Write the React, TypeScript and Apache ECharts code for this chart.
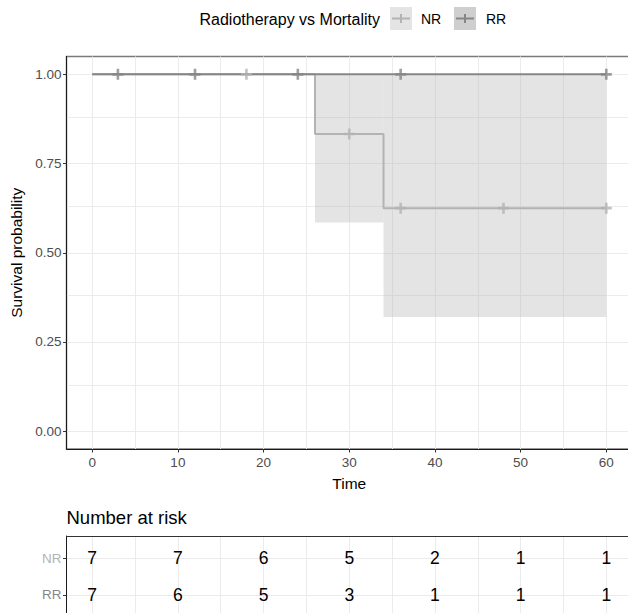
import React, { useEffect, useRef } from 'react';
import * as echarts from 'echarts';

const groups = ['NR', 'RR'];
const groupColors = ['#b3b3b3', '#868686'];
const timeTicks = [0, 10, 20, 30, 40, 50, 60];
const survTicks = [0, 0.25, 0.5, 0.75, 1];
const nrCurve = [[0, 1], [26, 0.833], [34, 0.625], [60, 0.625]];
const rrCurve = [[0, 1], [60, 1]];
// [x start, x end, lower, upper]
const nrBand = [[26, 34, 0.585, 1], [34, 60, 0.32, 1]];
const nrCensor = [[18, 1], [30, 0.833], [36, 0.625], [48, 0.625], [60, 0.625]];
const rrCensor = [[3, 1], [12, 1], [24, 1], [36, 1], [60, 1]];
const nrRisk = [7, 7, 6, 5, 2, 1, 1];
const rrRisk = [7, 6, 5, 3, 1, 1, 1];

const FONT = '"Liberation Sans", Arial, Helvetica, sans-serif';
const GRID = '#ebebeb';
const CROSS = 'path://M0,4.2H4.2V0H6.8V4.2H11V6.8H6.8V11H4.2V6.8H0Z';

function withMinor(ticks: number[]) {
  const out: number[] = [];
  ticks.forEach((t, i) => {
    out.push(t);
    if (i < ticks.length - 1) out.push((t + ticks[i + 1]) / 2);
  });
  return out;
}

export default function App() {
  const ref = useRef<HTMLDivElement>(null);
  useEffect(() => {
    if (!ref.current) return;
    const chart = echarts.init(ref.current, undefined, { renderer: 'svg' });
    const xGrid = withMinor(timeTicks);
    const yGrid = withMinor(survTicks);
    const riskRows = [nrRisk, rrRisk];
    const riskData: number[][] = [];
    riskRows.forEach((row, i) => row.forEach((n, j) => riskData.push([timeTicks[j], i + 1, n])));

    const lineMark = (data: any[]) => ({
      silent: true,
      symbol: ['none', 'none'],
      z: 0,
      label: { show: false },
      lineStyle: { color: GRID, type: 'solid', width: 1 },
      emphasis: { disabled: true },
      data,
    });

    const option: any = {
      animation: false,
      backgroundColor: '#ffffff',
      textStyle: { fontFamily: FONT },
      grid: [
        { left: 66.5, width: 565.5, top: 56.5, height: 392.5, outerBoundsMode: 'none', containLabel: false, show: true, borderColor: '#7a7a7a', borderWidth: 1.5, backgroundColor: 'transparent' },
        { left: 66.5, width: 565.5, top: 536, height: 81, outerBoundsMode: 'none', containLabel: false, show: false },
      ],
      xAxis: [
        {
          type: 'value', gridIndex: 0, min: -3, max: 63,
          splitLine: { show: false },
          axisLine: { show: true, onZero: false, lineStyle: { color: '#1a1a1a', width: 1 } },
          axisTick: { show: true, customValues: timeTicks, length: 3.5, lineStyle: { color: '#333333' } },
          axisLabel: { customValues: timeTicks, color: '#4d4d4d', fontSize: 13.5, margin: 6, fontFamily: FONT },
          name: 'Time', nameLocation: 'middle', nameGap: 26,
          nameTextStyle: { color: '#000000', fontSize: 15.5, fontFamily: FONT },
        },
        {
          type: 'value', gridIndex: 1, min: -3, max: 63, position: 'top',
          splitLine: { show: false },
          axisLine: { show: true, onZero: false, lineStyle: { color: '#333333', width: 1 } },
          axisTick: { show: false }, axisLabel: { show: false },
        },
      ],
      yAxis: [
        {
          type: 'value', gridIndex: 0, min: -0.05, max: 1.05,
          splitLine: { show: false },
          axisLine: { show: true, onZero: false, lineStyle: { color: '#1a1a1a', width: 1 } },
          axisTick: { show: true, customValues: survTicks, length: 3.5, lineStyle: { color: '#333333' } },
          axisLabel: { customValues: survTicks, formatter: (v: number) => v.toFixed(2), color: '#4d4d4d', fontSize: 13.5, margin: 5, fontFamily: FONT },
          name: 'Survival probability', nameLocation: 'middle', nameGap: 40,
          nameTextStyle: { color: '#000000', fontSize: 15.5, fontFamily: FONT },
        },
        {
          type: 'value', gridIndex: 1, min: 0.4, max: 2.6, inverse: true,
          splitLine: { show: false },
          axisLine: { show: true, onZero: false, lineStyle: { color: '#1a1a1a', width: 1 } },
          axisTick: { show: true, customValues: [1, 2], length: 3.5, lineStyle: { color: '#333333' } },
          axisLabel: {
            customValues: [1, 2],
            formatter: (v: number) => groups[Math.round(v) - 1] || '',
            color: (v: any) => groupColors[Math.round(Number(v)) - 1] || '#4d4d4d',
            fontSize: 13.5, margin: 5, fontFamily: FONT,
          },
        },
      ],
      series: [
        {
          type: 'line', xAxisIndex: 0, yAxisIndex: 0, z: 0, silent: true,
          data: [[-3, -0.05]], symbol: 'none', lineStyle: { opacity: 0 },
          markLine: lineMark([
            ...xGrid.map((x) => ({ xAxis: x })),
            ...yGrid.map((y) => ({ yAxis: y })),
          ]),
        },
        {
          type: 'custom', xAxisIndex: 0, yAxisIndex: 0, z: 1, silent: true,
          data: nrBand,
          renderItem: (params: any, api: any) => {
            const p0 = api.coord([api.value(0), api.value(3)]);
            const p1 = api.coord([api.value(1), api.value(2)]);
            return {
              type: 'rect',
              shape: { x: p0[0], y: p0[1], width: p1[0] - p0[0], height: p1[1] - p0[1] },
              style: { fill: 'rgba(179,179,179,0.36)' },
            };
          },
        },
        {
          type: 'line', xAxisIndex: 0, yAxisIndex: 0, z: 2, step: 'end', name: 'NR',
          data: nrCurve, symbol: 'none', lineStyle: { color: groupColors[0], width: 2 },
        },
        {
          type: 'line', xAxisIndex: 0, yAxisIndex: 0, z: 3, step: 'end', name: 'RR',
          data: rrCurve, symbol: 'none', lineStyle: { color: groupColors[1], width: 2 },
        },
        {
          type: 'scatter', xAxisIndex: 0, yAxisIndex: 0, z: 4,
          data: nrCensor, symbol: CROSS, symbolSize: 11, itemStyle: { color: groupColors[0] },
        },
        {
          type: 'scatter', xAxisIndex: 0, yAxisIndex: 0, z: 4,
          data: rrCensor, symbol: CROSS, symbolSize: 11, itemStyle: { color: groupColors[1] },
        },
        {
          type: 'line', xAxisIndex: 1, yAxisIndex: 1, z: 0, silent: true,
          data: [[-3, 0.4]], symbol: 'none', lineStyle: { opacity: 0 },
          markLine: lineMark([
            ...xGrid.map((x) => ({ xAxis: x })),
            { yAxis: 1 }, { yAxis: 2 },
          ]),
        },
        {
          type: 'custom', xAxisIndex: 1, yAxisIndex: 1, z: 2, silent: true,
          data: riskData,
          renderItem: (params: any, api: any) => {
            const p = api.coord([api.value(0), api.value(1)]);
            return {
              type: 'text', x: p[0], y: p[1],
              style: {
                text: String(api.value(2)), fill: '#000000', fontSize: 17.5, fontFamily: FONT,
                align: 'center', verticalAlign: 'middle', textAlign: 'center', textVerticalAlign: 'middle',
              },
            };
          },
        },
      ],
      graphic: [
        { type: 'text', x: 380, y: 19, style: { text: 'Radiotherapy vs Mortality', fill: '#000', fontSize: 16, fontFamily: FONT, align: 'right', verticalAlign: 'middle', textAlign: 'right', textVerticalAlign: 'middle' } },
        { type: 'rect', shape: { x: 390, y: 7, width: 22, height: 23 }, style: { fill: '#e4e4e4' } },
        { type: 'line', shape: { x1: 392, y1: 18.5, x2: 410, y2: 18.5 }, style: { stroke: groupColors[0], lineWidth: 2 } },
        { type: 'line', shape: { x1: 401, y1: 14, x2: 401, y2: 23 }, style: { stroke: groupColors[0], lineWidth: 2 } },
        { type: 'text', x: 421, y: 19, style: { text: 'NR', fill: '#000', fontSize: 14, fontFamily: FONT, align: 'left', verticalAlign: 'middle', textAlign: 'left', textVerticalAlign: 'middle' } },
        { type: 'rect', shape: { x: 454, y: 7, width: 22, height: 23 }, style: { fill: '#cfcfcf' } },
        { type: 'line', shape: { x1: 456, y1: 18.5, x2: 474, y2: 18.5 }, style: { stroke: groupColors[1], lineWidth: 2 } },
        { type: 'line', shape: { x1: 465, y1: 14, x2: 465, y2: 23 }, style: { stroke: groupColors[1], lineWidth: 2 } },
        { type: 'text', x: 486, y: 19, style: { text: 'RR', fill: '#000', fontSize: 14, fontFamily: FONT, align: 'left', verticalAlign: 'middle', textAlign: 'left', textVerticalAlign: 'middle' } },
        { type: 'text', x: 66.5, y: 517, style: { text: 'Number at risk', fill: '#000', fontSize: 18.5, fontFamily: FONT, align: 'left', verticalAlign: 'middle', textAlign: 'left', textVerticalAlign: 'middle' } },
      ],
    };
    chart.setOption(option);
    return () => chart.dispose();
  }, []);
  return (
    <div
      ref={ref}
      style={{ position: 'fixed', left: 0, top: 0, width: 628, height: 613, background: '#fff' }}
    />
  );
}
